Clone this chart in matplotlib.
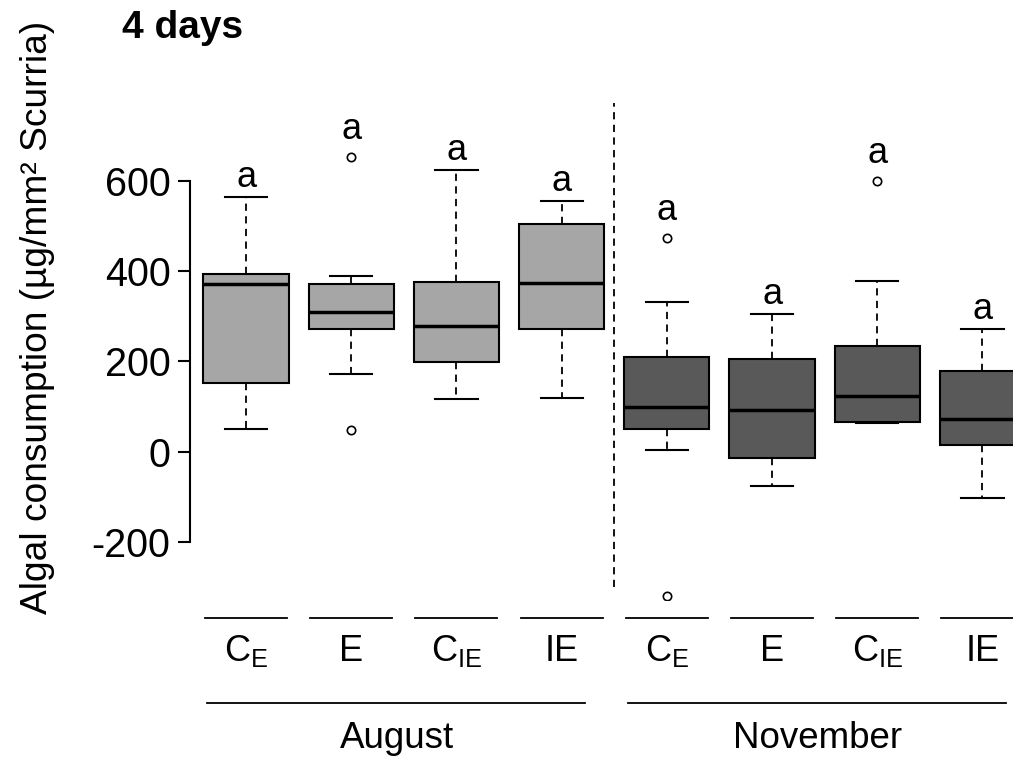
import matplotlib
matplotlib.use('Agg')
import matplotlib.pyplot as plt
import numpy as np

plt.rcParams['font.family'] = ['Liberation Sans', 'DejaVu Sans']
plt.rcParams['mathtext.fontset'] = 'custom'
plt.rcParams['mathtext.rm'] = 'Liberation Sans'
plt.rcParams['mathtext.it'] = 'Liberation Sans:italic'
plt.rcParams['mathtext.bf'] = 'Liberation Sans:bold'
plt.rcParams['axes.unicode_minus'] = False

# box statistics (August: 4 boxes, November: 4 boxes)
groups = ['August', 'November']
treatments = [r'C$_\mathrm{E}$', 'E', r'C$_\mathrm{IE}$', 'IE']
q1 = [152.8, 272.6, 198.7, 272.6, 49.1, -13.7, 66.0, 13.7]
med = [372.5, 309.7, 277.9, 374.0, 98.0, 92.0, 124.0, 71.5]
q3 = [393.0, 372.5, 377.0, 505.7, 210.5, 206.0, 234.0, 179.4]
whislo = [50.0, 172.8, 117.3, 119.5, 4.0, -77.0, 62.5, -104.0]
whishi = [565.6, 389.6, 625.6, 556.8, 331.0, 305.0, 378.5, 272.6]
fliers = [[], [653.0, 47.7], [], [], [474.7, -320.0], [], [599.7], []]
letters = ['a'] * 8
colors = ['#a6a6a6'] * 4 + ['#595959'] * 4

stats = []
for i in range(len(med)):
    stats.append(dict(med=med[i], q1=q1[i], q3=q3[i], whislo=whislo[i],
                      whishi=whishi[i], fliers=fliers[i]))

W, H = 1013, 761
fig = plt.figure(figsize=(W / 100, H / 100), dpi=100)
ax = fig.add_axes([190 / W, 1 - 600 / H, (W - 190) / W, (600 - 95) / H])

pos = np.arange(1, len(med) + 1)
bp = ax.bxp(stats, positions=pos, widths=0.81, patch_artist=True,
            showfliers=True,
            boxprops=dict(edgecolor='black', linewidth=1.5),
            medianprops=dict(color='black', linewidth=2.5),
            whiskerprops=dict(color='black', linewidth=1.3, linestyle=(0, (4, 3))),
            capprops=dict(color='black', linewidth=1.5),
            flierprops=dict(marker='o', markersize=6, markerfacecolor='none',
                            markeredgecolor='black', markeredgewidth=1.2))
for patch, c in zip(bp['boxes'], colors):
    patch.set_facecolor(c)
for cap in bp['caps']:
    m = np.mean(cap.get_xdata())
    cap.set_xdata([m - 0.2, m + 0.2])

# significance letters
for i in range(len(med)):
    top = max([whishi[i]] + fliers[i])
    pad = 40 if fliers[i] and max(fliers[i]) > whishi[i] else 22
    ax.text(pos[i], top + pad, letters[i], ha='center', va='baseline', fontsize=26)

ax.vlines(4.5, -300, 773, colors='black', linestyles=(0, (4, 3)), linewidth=1.3)

ax.set_xlim(0.467, 0.467 + (W - 190) / 105.2)
ax.set_ylim(-329.6, 791.3)
for s in ['top', 'right', 'bottom']:
    ax.spines[s].set_visible(False)
ax.spines['left'].set_bounds(-200, 600)
ax.spines['left'].set_linewidth(1.5)
ax.set_xticks([])
ax.set_yticks([-200, 0, 200, 400, 600])
ax.tick_params(axis='y', labelsize=28.5, width=1.5, length=9, pad=5)

# category segments and labels below the plot
for i, p in enumerate(pos):
    ax.plot([p - 0.39, p + 0.39], [-369.6, -369.6], color='black', lw=1.3,
            clip_on=False)
    ax.text(p, -443, treatments[i % 4], ha='center', va='center', fontsize=26,
            clip_on=False)

for g, name in enumerate(groups):
    start = 1 + 4 * g
    ax.plot([start - 0.37, start + 3.22], [-558, -558], color='black', lw=1.3,
            clip_on=False)
    ax.text(start + 1.43, -636, name, ha='center', va='center', fontsize=26.5,
            clip_on=False)

fig.text(122 / W, 1 - 28 / H, '4 days', ha='left', va='center', fontsize=28,
         fontweight='bold')
fig.text(38 / W, 1 - 317 / H, 'Algal consumption (µg/mm² Scurria)', rotation=90,
         ha='center', va='center', fontsize=26.7)

fig.savefig('out.png', dpi=100)
